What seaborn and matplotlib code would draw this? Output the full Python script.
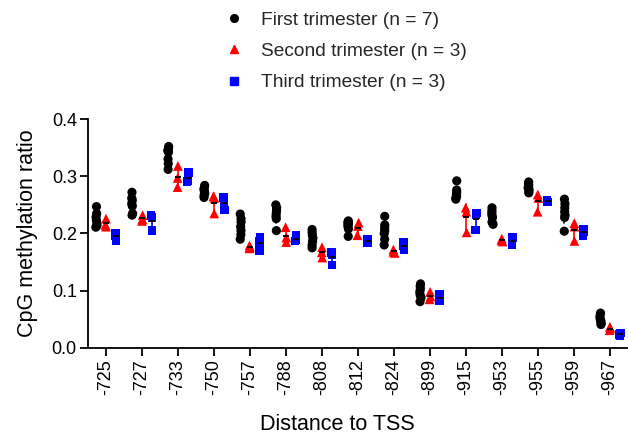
import numpy as np
import pandas as pd
import matplotlib
matplotlib.use("Agg")
import matplotlib.pyplot as plt
import seaborn as sns
from matplotlib.lines import Line2D

# CpG sites, given as distance to the transcription start site
positions = ["-725", "-727", "-733", "-750", "-757", "-788", "-808", "-812",
             "-824", "-899", "-915", "-953", "-955", "-959", "-967"]

# Methylation ratio per sample at each CpG site
first_trimester = [
    [0.247, 0.235, 0.229, 0.223, 0.218, 0.214, 0.211],
    [0.272, 0.262, 0.258, 0.252, 0.248, 0.235, 0.232],
    [0.352, 0.348, 0.345, 0.342, 0.330, 0.322, 0.312],
    [0.284, 0.280, 0.277, 0.273, 0.270, 0.267, 0.263],
    [0.234, 0.226, 0.220, 0.212, 0.205, 0.198, 0.190],
    [0.250, 0.245, 0.240, 0.235, 0.230, 0.226, 0.205],
    [0.207, 0.202, 0.197, 0.192, 0.186, 0.180, 0.175],
    [0.222, 0.220, 0.218, 0.216, 0.213, 0.208, 0.195],
    [0.230, 0.215, 0.210, 0.205, 0.200, 0.190, 0.180],
    [0.112, 0.108, 0.103, 0.098, 0.093, 0.088, 0.081],
    [0.292, 0.276, 0.272, 0.268, 0.265, 0.262, 0.260],
    [0.245, 0.240, 0.236, 0.232, 0.228, 0.220, 0.216],
    [0.290, 0.287, 0.284, 0.280, 0.277, 0.274, 0.271],
    [0.260, 0.252, 0.245, 0.238, 0.232, 0.228, 0.204],
    [0.061, 0.056, 0.052, 0.048, 0.046, 0.043, 0.041],
]
second_trimester = [
    [0.226, 0.215, 0.212],
    [0.232, 0.225, 0.222],
    [0.318, 0.297, 0.281],
    [0.265, 0.262, 0.235],
    [0.179, 0.176, 0.174],
    [0.211, 0.193, 0.185],
    [0.176, 0.167, 0.158],
    [0.219, 0.213, 0.197],
    [0.172, 0.168, 0.166],
    [0.098, 0.090, 0.085],
    [0.245, 0.238, 0.202],
    [0.191, 0.188, 0.186],
    [0.268, 0.262, 0.238],
    [0.218, 0.212, 0.187],
    [0.037, 0.034, 0.031],
]
third_trimester = [
    [0.200, 0.197, 0.188],
    [0.231, 0.228, 0.205],
    [0.307, 0.292, 0.291],
    [0.263, 0.255, 0.241],
    [0.193, 0.186, 0.170],
    [0.196, 0.190, 0.187],
    [0.167, 0.163, 0.145],
    [0.189, 0.186, 0.184],
    [0.185, 0.178, 0.172],
    [0.093, 0.088, 0.083],
    [0.236, 0.233, 0.206],
    [0.193, 0.186, 0.181],
    [0.258, 0.256, 0.255],
    [0.207, 0.203, 0.197],
    [0.026, 0.024, 0.022],
]

group_labels = ["First trimester (n = 7)",
                "Second trimester (n = 3)",
                "Third trimester (n = 3)"]
y_ticks = [0.0, 0.1, 0.2, 0.3, 0.4]

# Long-format table
rows = []
for pos, a, b, c in zip(positions, first_trimester, second_trimester, third_trimester):
    for label, vals in zip(group_labels, (a, b, c)):
        for v in vals:
            rows.append((pos, label, v))
df = pd.DataFrame(rows, columns=["position", "group", "ratio"])

sns.set_theme(style="ticks")
plt.rcParams["font.family"] = ["Liberation Sans", "DejaVu Sans"]

colors = ["#000000", "#ff0000", "#0000ff"]
palette = dict(zip(group_labels, colors))
markers = ["o", "^", "s"]
sizes = [6.6, 7.0, 6.2]
dodge_span = 0.8 * 2 / 3

fig = plt.figure(figsize=(6.28, 4.38), dpi=100)
ax = fig.add_axes([0.1401, 0.2055, 0.86, 0.5228])

np.random.seed(3)
for label, mk, sz in zip(group_labels, markers, sizes):
    sns.stripplot(data=df[df["group"] == label], x="position", y="ratio",
                  hue="group", hue_order=group_labels, order=positions,
                  palette=palette, dodge=True, jitter=0.06,
                  marker=mk, size=sz, linewidth=0, legend=False, ax=ax,
                  zorder=2)

# Mean +/- SD in the group colour
sns.pointplot(data=df, x="position", y="ratio", hue="group",
              hue_order=group_labels, order=positions, palette=palette,
              errorbar="sd", dodge=dodge_span, linestyle="none", markers="_",
              markersize=5, markeredgewidth=1.3, capsize=0,
              err_kws={"linewidth": 1.2}, legend=False, ax=ax)
# Black mean bars on top
sns.pointplot(data=df, x="position", y="ratio", hue="group",
              hue_order=group_labels, order=positions,
              palette=dict(zip(group_labels, ["black"] * 3)),
              errorbar=None, dodge=dodge_span, linestyle="none", markers="_",
              markersize=5, markeredgewidth=1.3, legend=False, ax=ax)

ax.set_xlim(-0.5, len(positions) - 0.5)
ax.set_ylim(0, 0.4)
ax.set_yticks(y_ticks)
ax.set_yticklabels([f"{t:.1f}" for t in y_ticks])
ax.tick_params(axis="x", labelrotation=90)
ax.tick_params(axis="both", labelsize=13, length=6, width=1.3,
               color="black", labelcolor="black", pad=2, direction="out")
for s in ("left", "bottom"):
    ax.spines[s].set_linewidth(1.3)
    ax.spines[s].set_color("black")
for s in ("top", "right"):
    ax.spines[s].set_visible(False)

ax.set_xlabel("")
ax.set_ylabel("CpG methylation ratio", fontsize=15.5, color="black", labelpad=10)
fig.text(337 / 628, 1 - 424 / 438, "Distance to TSS", ha="center", va="center",
         fontsize=15.5, color="black")

handles = [Line2D([], [], linestyle="none", marker=m, color=c, markersize=5.5)
           for m, c in zip(markers, colors)]
fig.legend(handles, group_labels, loc="upper left",
           bbox_to_anchor=(208 / 628, 1.0), frameon=False, fontsize=13.8,
           handletextpad=0.65, labelspacing=0.72, handlelength=1.5,
           borderaxespad=0.2)

fig.savefig("out.png", dpi=100)
